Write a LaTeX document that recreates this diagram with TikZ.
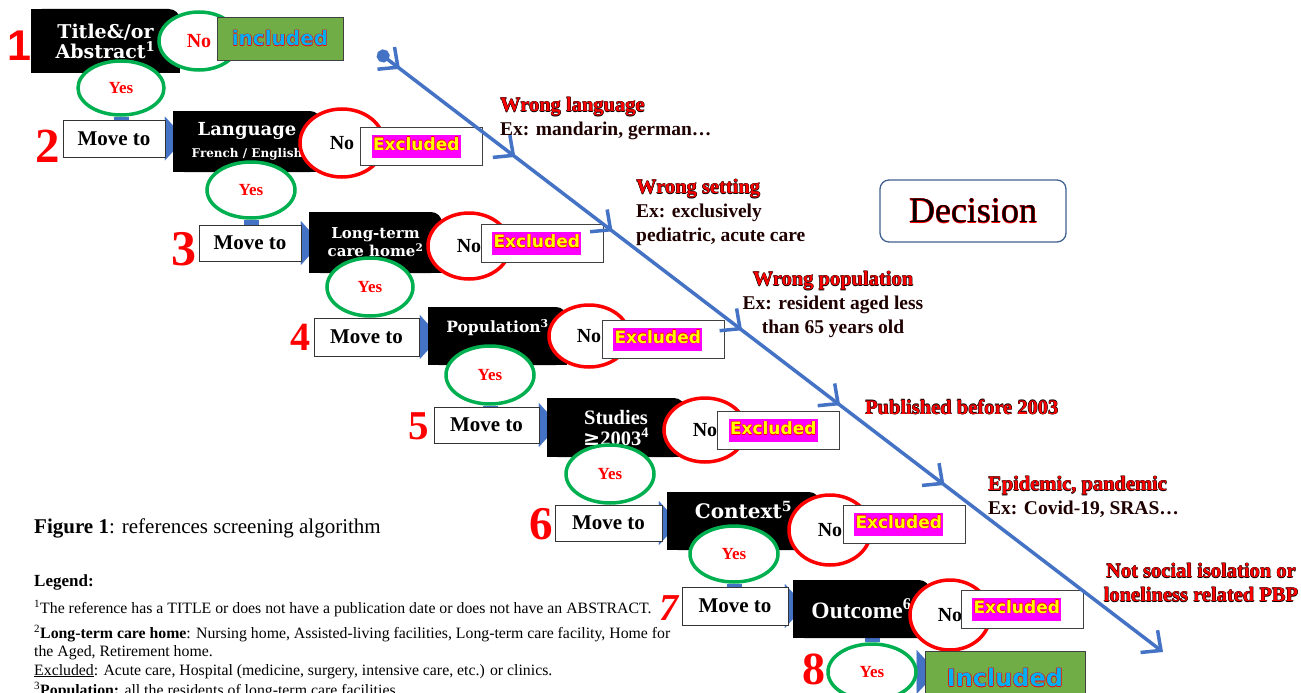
\documentclass[tikz,border=0pt]{standalone}
\usepackage{fontspec}
\setmainfont{Liberation Serif}
\newfontfamily\critfont{DejaVu Serif}
\newfontfamily\badgefont{DejaVu Sans}
\newfontfamily\digitfont{Liberation Sans}
\usetikzlibrary{shapes.geometric, arrows.meta, positioning, decorations.markings, backgrounds}

\definecolor{linkblue}{HTML}{4472C4}
\definecolor{okgreen}{HTML}{00B050}
\definecolor{incgreen}{HTML}{70AD47}
\definecolor{incblue}{HTML}{00B0F0}
\definecolor{boxblue}{HTML}{41608F}
\definecolor{darkred}{HTML}{1E0000}
\definecolor{hotpink}{HTML}{FF00FF}
\definecolor{brightyellow}{HTML}{FFFF00}
\definecolor{purered}{HTML}{FF0000}

\newlength\rimw
\setlength\rimw{0.5pt}
\newcommand\rimtext[3]{%
  \leavevmode
  \rlap{\kern-\rimw\textcolor{#1}{#3}}%
  \rlap{\kern\rimw\textcolor{#1}{#3}}%
  \rlap{\raisebox{\rimw}{\textcolor{#1}{#3}}}%
  \rlap{\raisebox{-\rimw}{\textcolor{#1}{#3}}}%
  \textcolor{#2}{#3}}
\newcommand\excl{{\setlength\fboxsep{1.5pt}\colorbox{hotpink}{\strut\rimtext{purered}{brightyellow}{Excluded}}}}
\newcommand\notehead[1]{{\fontsize{20.5}{24}\selectfont\setlength\rimw{0.45pt}\rimtext{black}{purered}{#1}}}
\newcommand\notebody[1]{{\fontsize{19.5}{24}\selectfont\textcolor{darkred}{#1}}}

\begin{document}
\begin{tikzpicture}[x=1pt, y=-1pt,
    crit/.style = {text=white, align=center, inner sep=0pt,
        path picture={
            \fill[black, rounded corners=11pt] (path picture bounding box.south west) rectangle (path picture bounding box.north east);
            \fill[black] (path picture bounding box.south west) rectangle ([xshift=-12pt]path picture bounding box.north east);
            \fill[black] (path picture bounding box.south west) rectangle ([yshift=-12pt]path picture bounding box.north east);}},
    movebox/.style = {draw=black!80, fill=white, line width=0.8pt, inner sep=0pt, font=\bfseries\fontsize{21}{24}\selectfont},
    yesring/.style = {ellipse, draw=okgreen, line width=3.5pt, fill=white, inner sep=0pt, text=purered, font=\bfseries\fontsize{17}{20}\selectfont},
    noring/.style = {ellipse, draw=purered, line width=3.5pt, fill=white, inner sep=0pt, font=\bfseries\fontsize{20}{22}\selectfont},
    exclbox/.style = {draw=black!75, fill=white, line width=0.8pt, minimum width=122pt, minimum height=38pt,
        text width=100pt, inner xsep=11pt, inner ysep=0pt, align=left, font=\badgefont\bfseries\fontsize{17}{20}\selectfont},
    incbox/.style = {draw=black!75, fill=incgreen, line width=0.8pt, inner sep=0pt},
    stepnum/.style = {text=purered, inner sep=0pt},
    stem/.style = {linkblue, line width=15pt},
    feed/.style = {linkblue, line width=0.1pt, -{Triangle[length=20pt, width=44pt]}, shorten >=-12pt},
    note/.style = {inner sep=0pt, font=\bfseries\fontsize{20}{24}\selectfont},
    legendtext/.style = {inner sep=0pt, font=\fontsize{15.8}{18.5}\selectfont},
    decision/.style = {draw=boxblue, line width=1.3pt, rounded corners=9pt, minimum width=186pt, minimum height=62pt, font=\fontsize{36}{40}\selectfont},
    flow/.style = {linkblue, line width=3.5pt, {Circle[length=13pt]}-{Straight Barb[length=15pt, width=28pt]},
        postaction={decorate},
        decoration={markings,
            mark=at position 0.028 with {\arrow{Straight Barb[length=15pt, width=28pt]}},
            mark=at position 0.175 with {\arrow{Straight Barb[length=15pt, width=28pt]}},
            mark=at position 0.299 with {\arrow{Straight Barb[length=15pt, width=28pt]}},
            mark=at position 0.464 with {\arrow{Straight Barb[length=15pt, width=28pt]}},
            mark=at position 0.589 with {\arrow{Straight Barb[length=15pt, width=28pt]}},
            mark=at position 0.722 with {\arrow{Straight Barb[length=15pt, width=28pt]}}}}
    ]

    \useasboundingbox (0,0) rectangle (1301,693);

    % row 1
    \node[stepnum, font=\digitfont\bfseries\fontsize{43}{43}\selectfont] (num1) at (19,46) {1};
    \node[crit, minimum width=149pt, minimum height=64pt, font=\critfont\bfseries\fontsize{19}{20}\selectfont] (crit1) at (105.5,41) {Title\&/or\\Abstract\textsuperscript{1}};
    \node[yesring, minimum width=86pt, minimum height=54pt] (yes1) at (121,88) {Yes};
    \node[yesring, minimum width=80pt, minimum height=58pt, font=\bfseries\fontsize{20}{22}\selectfont] (no1) at (199,41) {No};
    \node[incbox, minimum width=126pt, minimum height=43pt, font=\badgefont\bfseries\fontsize{20}{22}\selectfont] (inc1) at (280,38.5) {\setlength\rimw{0.6pt}\rimtext{purered}{incblue}{included}};

    % row 2
    \node[stepnum, font=\bfseries\fontsize{49}{49}\selectfont] (num2) at (48,146) {2};
    \node[movebox, minimum width=102pt, minimum height=37pt] (move2) at (114,138.5) {Move to};
    \node[crit, minimum width=148pt, minimum height=61pt, font=\critfont\bfseries\fontsize{18}{22}\selectfont] (crit2) at (247,141.5) {Language\\{\fontsize{12}{14}\selectfont French / English}};
    \node[yesring, minimum width=88pt, minimum height=56pt] (yes2) at (251,190) {Yes};
    \node[noring, minimum width=84pt, minimum height=68pt] (no2) at (342,143) {No};
    \node[exclbox] (out2) at (421.5,146) {\excl};

    % row 3
    \node[stepnum, font=\bfseries\fontsize{50}{50}\selectfont] (num3) at (184,249) {3};
    \node[movebox, minimum width=102pt, minimum height=36pt] (move3) at (250,243) {Move to};
    \node[crit, minimum width=133pt, minimum height=61pt, font=\critfont\bfseries\fontsize{15}{18}\selectfont] (crit3) at (375.5,242.5) {Long-term\\care home\textsuperscript{2}};
    \node[yesring, minimum width=86pt, minimum height=58pt] (yes3) at (370,287) {Yes};
    \node[noring, minimum width=82pt, minimum height=66pt] (no3) at (469,246) {No};
    \node[exclbox] (out3) at (542,243.5) {\excl};

    % row 4
    \node[stepnum, font=\bfseries\fontsize{40}{40}\selectfont] (num4) at (300,337) {4};
    \node[movebox, minimum width=105pt, minimum height=38pt] (move4) at (366.5,337) {Move to};
    \node[crit, minimum width=139pt, minimum height=58pt, text depth=20pt, font=\critfont\bfseries\fontsize{15.5}{18}\selectfont] (crit4) at (497.5,336) {Population\textsuperscript{3}};
    \node[yesring, minimum width=88pt, minimum height=58pt] (yes4) at (490,375) {Yes};
    \node[noring, minimum width=80pt, minimum height=62pt] (no4) at (589,336) {No};
    \node[exclbox] (out4) at (663,339) {\excl};

    % row 5
    \node[stepnum, font=\bfseries\fontsize{41}{41}\selectfont] (num5) at (419,426) {5};
    \node[movebox, minimum width=105pt, minimum height=36pt] (move5) at (486.5,425) {Move to};
    \node[crit, minimum width=138pt, minimum height=59pt, font=\bfseries\fontsize{20.5}{21}\selectfont] (crit5) at (616,427.5) {Studies\\{\critfont\bfseries ≥}2003\textsuperscript{4}};
    \node[yesring, minimum width=88pt, minimum height=58pt] (yes5) at (610,474) {Yes};
    \node[noring, minimum width=82pt, minimum height=64pt] (no5) at (705,430) {No};
    \node[exclbox] (out5) at (778.5,430.5) {\excl};

    % row 6
    \node[stepnum, font=\bfseries\fontsize{47}{47}\selectfont] (num6) at (541,524) {6};
    \node[movebox, minimum width=107pt, minimum height=36pt] (move6) at (608.5,523) {Move to};
    \node[crit, minimum width=153pt, minimum height=58pt, text depth=22pt, font=\critfont\bfseries\fontsize{20}{22}\selectfont] (crit6) at (743.5,521) {Context\textsuperscript{5}};
    \node[yesring, minimum width=88pt, minimum height=56pt] (yes6) at (734,554) {Yes};
    \node[noring, minimum width=82pt, minimum height=70pt] (no6) at (830,530) {No};
    \node[exclbox] (out6) at (904,524) {\excl};

    % row 7
    \node[stepnum, font=\bfseries\itshape\fontsize{38}{38}\selectfont] (num7) at (669,608) {7};
    \node[movebox, minimum width=106pt, minimum height=38pt] (move7) at (735,606) {Move to};
    \node[crit, minimum width=137pt, minimum height=58pt, font=\bfseries\fontsize{23.5}{26}\selectfont] (crit7) at (861.5,609) {Outcome\textsuperscript{6}};
    \node[yesring, minimum width=88pt, minimum height=56pt] (yes7) at (872,672) {Yes};
    \node[noring, minimum width=80pt, minimum height=70pt] (no7) at (950,615) {No};
    \node[exclbox] (out7) at (1022,609) {\excl};

    % row 8
    \node[stepnum, font=\bfseries\fontsize{46}{46}\selectfont] (num8) at (814,669) {8};
    \node[incbox, minimum width=160pt, minimum height=53pt, font=\badgefont\bfseries\fontsize{24}{26}\selectfont] (inc8) at (1005,678) {\setlength\rimw{0.7pt}\rimtext{purered}{incblue}{Included}};

    \begin{scope}[on background layer]
        \draw[stem] (yes1.south) -- (yes1.south |- move2.north);
        \draw[stem] (yes2.south) -- (yes2.south |- move3.north);
        \draw[stem] (yes3.south) -- (yes3.south |- move4.north);
        \draw[stem] (yes4.south) -- (yes4.south |- move5.north);
        \draw[stem] (yes5.south) -- (yes5.south |- move6.north);
        \draw[stem] (yes6.south) -- (yes6.south |- move7.north);
        \draw[stem] (yes7.north) -- (yes7.north |- crit7.south);
        \draw[feed] (move2.east) -- (move2.east -| crit2.west);
        \draw[feed] (move3.east) -- (move3.east -| crit3.west);
        \draw[feed] (move4.east) -- (move4.east -| crit4.west);
        \draw[feed] (move5.east) -- (move5.east -| crit5.west);
        \draw[feed] (move6.east) -- (move6.east -| crit6.west);
        \draw[feed] (move7.east) -- (move7.east -| crit7.west);
        \draw[feed] (yes7.east) -- (yes7.east -| inc8.west);
    \end{scope}

    % reasons for exclusion
    \node[decision] (decision) at (973,211) {\setlength\rimw{0.3pt}\rimtext{purered}{black}{Decision}};
    \node[note, anchor=north west, align=left] (langnote) at (500,97) {\notehead{Wrong language}\\\notebody{Ex: mandarin, german…}};
    \node[note, anchor=north west, align=left] (settingnote) at (636,179) {\notehead{Wrong setting}\\\notebody{Ex: exclusively}\\\notebody{pediatric, acute care}};
    \node[note, anchor=north, align=center] (popnote) at (833,271) {\notehead{Wrong population}\\\notebody{Ex: resident aged less}\\\notebody{than 65 years old}};
    \node[note, anchor=north west, align=left] (yearnote) at (865,399) {\notehead{Published before 2003}};
    \node[note, anchor=north west, align=left] (contextnote) at (988,476) {\notehead{Epidemic, pandemic}\\\notebody{Ex: Covid-19, SRAS…}};
    \node[note, anchor=north, align=center] (outcomenote) at (1201,563) {\notehead{Not social isolation or}\\\notehead{loneliness related PBP}};

    \coordinate (flowtop) at (378,52);
    \coordinate (flowend) at (1163,652);
    \draw[flow] (flowtop) -- (flowend);

    % caption and legend
    \node[inner sep=0pt, anchor=base west, font=\fontsize{21}{24}\selectfont] (caption) at (34,533) {\textbf{Figure 1}: references screening algorithm};
    \node[legendtext, anchor=base west, font=\bfseries\fontsize{17}{20}\selectfont] (leghead) at (34,586) {Legend:};
    \node[legendtext, anchor=base west] (leg1) at (34,613) {\textsuperscript{1}The reference has a TITLE or does not have a publication date or does not have an ABSTRACT.};
    \node[legendtext, anchor=base west] (leg2) at (34,638) {\textsuperscript{2}\textbf{Long-term care home}: Nursing home, Assisted-living facilities, Long-term care facility, Home for};
    \node[legendtext, anchor=base west] (leg2b) at (34,656.5) {the Aged, Retirement home.};
    \node[legendtext, anchor=base west] (leg2c) at (34,675) {\underline{Excluded}: Acute care, Hospital (medicine, surgery, intensive care, etc.) or clinics.};
    \node[legendtext, anchor=base west] (leg3) at (34,695) {\textsuperscript{3}\textbf{Population:} all the residents of long-term care facilities};
\end{tikzpicture}
\end{document}
